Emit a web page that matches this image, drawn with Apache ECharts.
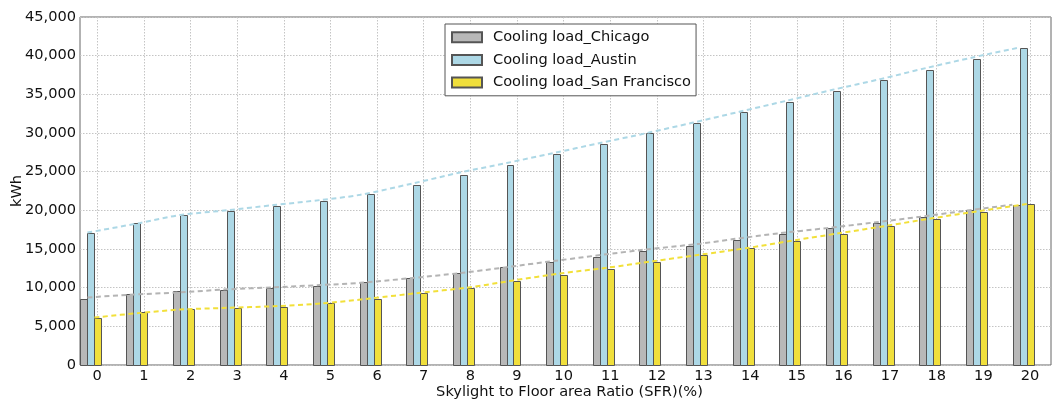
<!DOCTYPE html>
<html>
<head>
<meta charset="utf-8">
<script src="https://cdn.jsdelivr.net/npm/echarts@6/dist/echarts.min.js"></script>
<style>html,body{margin:0;padding:0;background:#fff}#c{width:1052px;height:401px}</style>
</head>
<body>
<div id="c"></div>
<script>
// ---- data ----
const sfr = [0,1,2,3,4,5,6,7,8,9,10,11,12,13,14,15,16,17,18,19,20];
const chicago = [8580, 9180, 9600, 9740, 9960, 10170, 10710, 11270, 11920, 12650, 13340, 14030, 14760, 15450, 16200, 16930, 17660, 18360, 19130, 19990, 20630];
const austin  = [17020, 18390, 19420, 19950, 20550, 21200, 22110, 23270, 24570, 25900, 27280, 28570, 29940, 31280, 32660, 34040, 35420, 36800, 38180, 39560, 40980];
const sanFran = [6100, 6800, 7300, 7430, 7550, 7980, 8570, 9250, 9990, 10800, 11660, 12440, 13340, 14220, 15120, 16070, 16930, 17920, 18910, 19820, 20810];

// dashed trend lines (x, kWh)
const chicagoTrendX = [-0.21, 0.63, 1.78, 2.78, 3.78, 4.78, 5.64, 7.78, 9.71, 11.71, 12.93, 13.64, 14.64, 15.64, 16.64, 17.64, 18.64, 19.62];
const chicagoTrendY = [8730, 9060, 9400, 9780, 10040, 10340, 10630, 11890, 13390, 14900, 15690, 16280, 17050, 17700, 18420, 19160, 19970, 20720];
const austinTrendX = [-0.21, 0.92, 1.78, 2.78, 3.78, 4.78, 5.64, 6.78, 7.78, 8.78, 9.78, 10.78, 11.78, 12.78, 13.77, 14.78, 15.77, 16.79, 17.77, 18.77, 19.72];
const austinTrendY = [17120, 18370, 19400, 20000, 20680, 21330, 22010, 23500, 24890, 26120, 27400, 28700, 29990, 31350, 32750, 34170, 35590, 36970, 38400, 39770, 40980];
const sfTrendX = [-0.06, 0.92, 1.78, 2.78, 3.78, 4.78, 5.85, 6.92, 7.92, 8.92, 9.92, 10.92, 11.92, 12.93, 13.93, 14.93, 15.93, 16.93, 17.93, 18.93, 19.93];
const sfTrendY = [6140, 6740, 7170, 7390, 7600, 7940, 8600, 9340, 9990, 10930, 11830, 12570, 13420, 14270, 15120, 16110, 17060, 18010, 19000, 19910, 20810];

const seriesNames = ['Cooling load_Chicago', 'Cooling load_Austin', 'Cooling load_San Francisco'];
const yTicks = [0, 5000, 10000, 15000, 20000, 25000, 30000, 35000, 40000, 45000];

// ---- chart ----
const FONT = 'DejaVu Sans';
const FS = 14.6;
const colors = ['#b8b8b8', '#add8e6', '#f0df3c'];
const trendColors = ['#b4b4b4', '#add8e6', '#f2e03a'];
const offsets = [[-0.375, -0.225], [-0.225, -0.075], [-0.075, 0.075]];

function fmt(v) { return String(v).replace(/\B(?=(\d{3})+(?!\d))/g, ','); }

function barSeries(idx, values) {
  return {
    name: seriesNames[idx],
    type: 'custom',
    z: 2,
    itemStyle: { color: colors[idx], borderColor: '#555', borderWidth: 1 },
    encode: { x: 0, y: 1 },
    data: sfr.map((x, i) => [x, values[i]]),
    renderItem: function (params, api) {
      const x = api.value(0), v = api.value(1);
      const p0 = api.coord([x + offsets[idx][0], v]);
      const p1 = api.coord([x + offsets[idx][1], 0]);
      return {
        type: 'rect',
        shape: { x: Math.round(p0[0]) + 0.5, y: Math.round(p0[1]) + 0.5, width: Math.round(p1[0]) - Math.round(p0[0]), height: Math.round(p1[1]) - Math.round(p0[1]) },
        style: { fill: colors[idx], stroke: '#555', lineWidth: 1 }
      };
    }
  };
}
function trendSeries(idx, xs, ys) {
  return {
    name: 'trend' + idx,
    type: 'line',
    z: 5,
    symbol: 'none',
    smooth: 0.3,
    silent: true,
    lineStyle: { color: trendColors[idx], width: 2, type: [5, 3.5] },
    data: xs.map((x, i) => [x, ys[i]])
  };
}

const chart = echarts.init(document.getElementById('c'), null, { renderer: 'canvas' });
chart.setOption({
  animation: false,
  backgroundColor: '#fff',
  textStyle: { fontFamily: FONT },
  grid: { left: 80, right: 1, top: 17, bottom: 36, containLabel: false, outerBoundsMode: 'none', show: true, borderColor: '#666', borderWidth: 1, backgroundColor: 'transparent' },
  legend: {
    data: seriesNames.map(n => ({ name: n, icon: 'rect' })),
    orient: 'vertical',
    left: 445, top: 24,
    itemWidth: 30, itemHeight: 10, itemGap: 7.7,
    padding: [5.7, 5, 5.7, 6],
    borderColor: '#555', borderWidth: 1, backgroundColor: '#fff',
    textStyle: { fontFamily: FONT, fontSize: FS, color: '#111', lineHeight: 14, padding: [0, 0, 0, 6] }
  },
  xAxis: {
    type: 'value',
    min: -0.37, max: 20.45,
    name: 'Skylight to Floor area Ratio (SFR)(%)',
    nameLocation: 'middle', nameGap: 20, nameMoveOverlap: false,
    nameTextStyle: { fontFamily: FONT, fontSize: FS, color: '#111', padding: [0, 0, 0, 8] },
    axisLine: { show: false },
    axisTick: { show: false, customValues: sfr },
    axisLabel: { customValues: sfr, fontFamily: FONT, fontSize: FS, color: '#111', margin: 4, formatter: v => String(Math.round(v)) },
    splitLine: { show: true, lineStyle: { color: '#c4c4c4', type: [1.5, 1.5], width: 1 } }
  },
  yAxis: {
    type: 'value',
    min: 0, max: 45000, interval: 5000,
    name: 'kWh',
    nameLocation: 'middle', nameGap: 55, nameMoveOverlap: false,
    nameTextStyle: { fontFamily: FONT, fontSize: FS, color: '#111' },
    axisLine: { show: false },
    axisTick: { show: false },
    axisLabel: { fontFamily: FONT, fontSize: FS, color: '#111', margin: 4, formatter: v => fmt(v), customValues: yTicks },
    splitLine: { show: true, lineStyle: { color: '#c4c4c4', type: [1.5, 1.5], width: 1 } }
  },
  series: [
    barSeries(0, chicago), barSeries(1, austin), barSeries(2, sanFran),
    trendSeries(0, chicagoTrendX, chicagoTrendY),
    trendSeries(1, austinTrendX, austinTrendY),
    trendSeries(2, sfTrendX, sfTrendY)
  ]
});
</script>
</body>
</html>
